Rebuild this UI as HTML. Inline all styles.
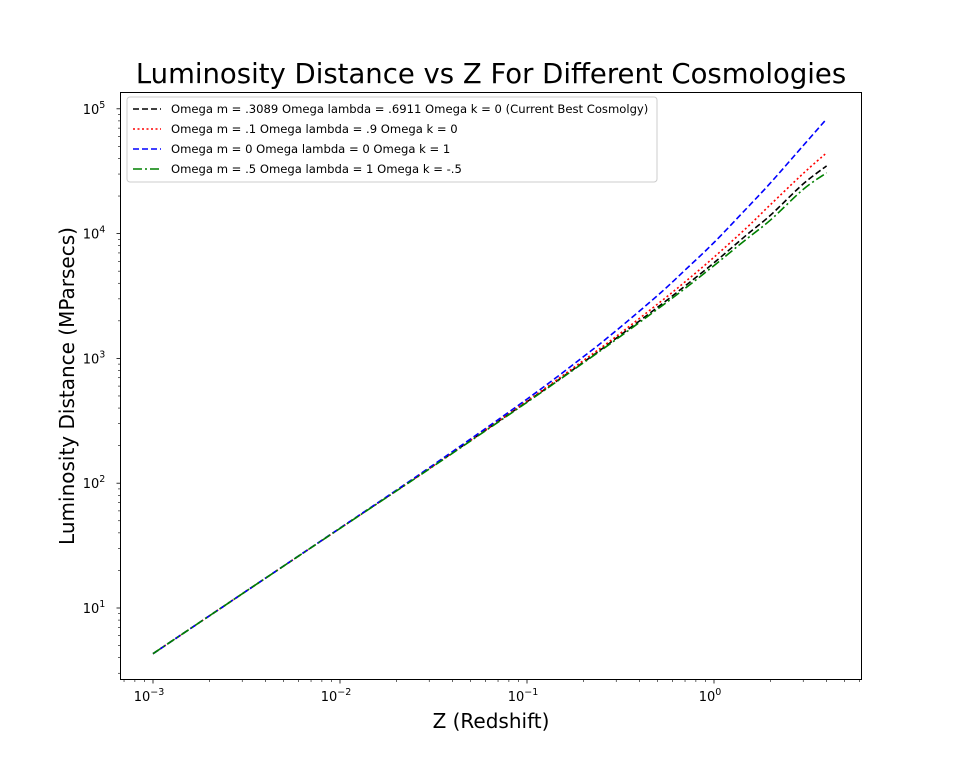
<!DOCTYPE html>
<html><head><meta charset="utf-8"><style>body{margin:0;background:#fff}svg{display:block;font-family:"DejaVu Sans","Liberation Sans",sans-serif}</style></head>
<body>
<svg id="chart" width="958" height="763">
<text x="491" y="83" font-size="27.5" text-anchor="middle">Luminosity Distance vs Z For Different Cosmologies</text>
<text x="491" y="728" font-size="20" text-anchor="middle">Z (Redshift)</text>
<text transform="translate(74,386) rotate(-90)" font-size="20" text-anchor="middle">Luminosity Distance (MParsecs)</text>
<g id="ticks"></g>
<g id="series"></g>
<rect x="120.5" y="92.5" width="741" height="587" fill="none" stroke="#000" stroke-width="1"/>
<g id="legend">
<rect x="127" y="97" width="530" height="85" rx="3" fill="#fff" fill-opacity="0.8" stroke="#ccc"/>
</g>
</svg>
<script>
const zValues=[0.001,0.003,0.01,0.03,0.1,0.2,0.3,0.5,0.7,1,1.5,2,3,4];
const blackD=[4.3,13,43.5,131,450,930,1450,2570,3800,5830,9800,14000,25000,34900];
const redD=[4.3,13,43.5,131,455,960,1500,2730,4100,6470,11200,17000,30300,44400];
const blueD=[4.3,13,43.7,133,472,1030,1670,3200,5100,8480,16000,25400,50700,83000];
const greenD=[4.3,13,43.4,130,445,920,1420,2490,3640,5540,9090,12800,22600,30700];
const seriesLabels=["Omega m = .3089 Omega lambda = .6911 Omega k = 0 (Current Best Cosmolgy)","Omega m = .1 Omega lambda = .9 Omega k = 0","Omega m = 0 Omega lambda = 0 Omega k = 1","Omega m = .5 Omega lambda = 1 Omega k = -.5"];
const xTickExps=[-3,-2,-1,0];
const yTickExps=[1,2,3,4,5];

const NS="http://www.w3.org/2000/svg";
function X(z){return 714+187*Math.log10(z);}
function Y(d){return 608-124.8*(Math.log10(d)-1);}
function mk(tag,attrs,parent){const e=document.createElementNS(NS,tag);for(const k in attrs)e.setAttribute(k,attrs[k]);parent.appendChild(e);return e;}
const tg=document.getElementById('ticks');
for(let e=-4;e<=1;e++){for(let m=1;m<10;m++){const v=m*Math.pow(10,e);const x=X(v);if(x<120||x>862)continue;
 const t=mk('line',{x1:x,x2:x,y1:680,y2:m==1?683.5:682,stroke:'#000','stroke-width':m==1?0.8:0.6},tg);
 
 }}
xTickExps.forEach(e=>{const t=mk('text',{x:X(Math.pow(10,e))-4,y:701,'font-size':13,'text-anchor':'middle'},tg);
 
 
 t.innerHTML='10<tspan dy="-6" font-size="9.5">'+(e<0?'\u2212'+(-e):e)+'</tspan>';});
for(let e=0;e<=5;e++){for(let m=1;m<10;m++){const v=m*Math.pow(10,e);const y=Y(v);if(y<92||y>680)continue;
 const t=mk('line',{x1:m==1?116.5:118,x2:120,y1:y,y2:y,stroke:'#000','stroke-width':m==1?0.8:0.6},tg);
 
 }}
yTickExps.forEach(e=>{const t=mk('text',{x:94,y:Y(Math.pow(10,e))+5,'font-size':13,'text-anchor':'middle'},tg);
 
 
 t.innerHTML='10<tspan dy="-6" font-size="9.5">'+e+'</tspan>';});
function smoothPath(p){let d='M'+p[0][0].toFixed(1)+','+p[0][1].toFixed(1);
 for(let i=0;i<p.length-1;i++){const p0=p[Math.max(0,i-1)],p1=p[i],p2=p[i+1],p3=p[Math.min(p.length-1,i+2)];
  const c1=[p1[0]+(p2[0]-p0[0])/6,p1[1]+(p2[1]-p0[1])/6],c2=[p2[0]-(p3[0]-p1[0])/6,p2[1]-(p3[1]-p1[1])/6];
  d+=' C'+c1.map(v=>v.toFixed(1)).join(',')+' '+c2.map(v=>v.toFixed(1)).join(',')+' '+p2[0].toFixed(1)+','+p2[1].toFixed(1);}
 return d;}
const sg=document.getElementById('series');
const defs=[{d:blackD,c:'#000',dash:'6,3',n:'series-current-best'},{d:redD,c:'#f00',dash:'2,2.5',n:'series-lambda-dominated'},{d:blueD,c:'#00f',dash:'6,3',n:'series-empty-universe'},{d:greenD,c:'#008000',dash:'9,3,2,3',n:'series-closed-universe'}];
defs.forEach(s=>{const pts=zValues.map((z,i)=>[X(z),Y(s.d[i])]);
 const p=mk('path',{d:smoothPath(pts),fill:'none',stroke:s.c,'stroke-width':1.6,'stroke-dasharray':s.dash},sg);
 
 });
const lg=document.getElementById('legend');
defs.forEach((s,i)=>{const y=109+i*20;
 const l=mk('line',{x1:133,x2:161,y1:y,y2:y,stroke:s.c,'stroke-width':1.6,'stroke-dasharray':s.dash},lg);
 
 
 const t=mk('text',{x:171,y:y+4,'font-size':11.6},lg);
 t.textContent=seriesLabels[i];
 
 });
</script>
</body></html>
